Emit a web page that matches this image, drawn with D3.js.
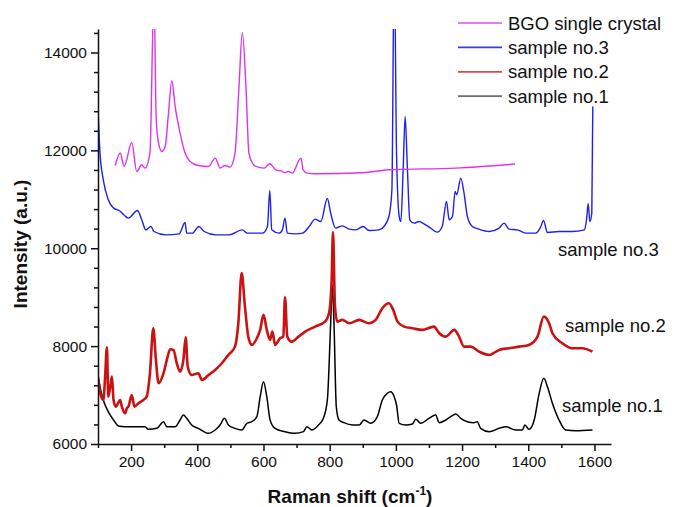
<!DOCTYPE html>
<html>
<head>
<meta charset="utf-8">
<script src="https://cdn.jsdelivr.net/npm/d3@7/dist/d3.min.js"></script>
<style>
  html, body { margin: 0; padding: 0; background: #fff; }
  svg { display: block; font-family: "Liberation Sans", Arial, sans-serif; }
</style>
</head>
<body>
<svg id="chart" width="675" height="507"></svg>
<script>
// ---------- data (Raman shift cm-1, intensity a.u.) ----------
const sample1 = [
  [101,7376],[106,7172],[116,6900],[131,6661],[147,6491],[162,6368],[182,6354],[212,6354],[242,6354],
  [252,6300],[278,6320],[298,6456],[308,6354],[333,6354],[348,6491],[358,6593],[368,6525],[383,6388],
  [403,6320],[434,6218],[454,6286],[469,6388],[482,6525],[494,6388],[514,6320],[534,6286],[550,6423],
  [565,6456],[580,6558],[590,6967],[600,7274],[610,6967],[620,6491],[635,6320],[665,6252],[695,6218],
  [721,6252],[731,6354],[746,6286],[766,6388],[781,6525],[793,6900],[803,8468],[808,9250],[813,8468],
  [820,6763],[828,6491],[843,6436],[869,6388],[889,6388],[904,6491],[924,6423],[944,6558],[959,6900],
  [974,7036],[984,7070],[995,6967],[1002,6797],[1010,6423],[1030,6388],[1050,6409],[1060,6505],
  [1075,6423],[1100,6525],[1120,6593],[1131,6436],[1151,6491],[1166,6558],[1181,6613],[1196,6525],
  [1216,6456],[1236,6436],[1246,6456],[1256,6320],[1282,6252],[1312,6320],[1332,6354],[1362,6286],
  [1382,6286],[1390,6388],[1402,6300],[1418,6491],[1433,7036],[1447,7343],[1458,7172],[1473,6832],
  [1493,6491],[1513,6286],[1543,6272],[1594,6286]
];
const sample2 = [
  [101,7309],[106,7070],[116,6900],[121,7309],[127,7978],[131,6967],[137,7172],[142,7376],[147,6900],
  [154,6763],[167,6900],[172,6763],[182,6627],[187,6729],[192,6763],[202,7002],[210,6763],[222,6832],
  [237,6900],[247,6967],[257,7446],[267,8366],[275,7718],[283,7241],[298,7446],[308,7718],[318,7937],
  [328,7922],[338,7650],[348,7479],[358,7718],[365,8182],[371,7581],[383,7411],[403,7446],[414,7309],
  [434,7411],[454,7513],[474,7650],[494,7820],[514,7990],[524,8468],[534,9491],[544,8808],[554,8194],
  [565,8025],[580,8161],[590,8331],[600,8638],[610,8331],[620,8127],[627,8297],[635,8025],[650,8161],
  [660,8194],[665,9000],[672,8194],[685,8092],[706,8194],[726,8297],[756,8399],[786,8501],[798,8673],
  [806,9354],[810,10330],[816,8808],[823,8501],[838,8536],[859,8468],[889,8536],[919,8468],[939,8536],
  [959,8775],[979,8877],[992,8740],[1005,8501],[1025,8399],[1050,8366],[1080,8331],[1115,8399],
  [1131,8263],[1151,8194],[1176,8331],[1191,8194],[1206,7990],[1226,7990],[1251,7888],[1282,7820],
  [1312,7922],[1342,7957],[1372,7990],[1402,8025],[1428,8194],[1447,8603],[1463,8468],[1473,8264],
  [1503,8059],[1533,7957],[1563,7957],[1594,7888]
];
const sample3 = [
  [96,13240],[99,12967],[106,11945],[116,11399],[131,10990],[147,10820],[164,10771],[192,10616],
  [219,10771],[234,10546],[244,10376],[260,10444],[269,10342],[305,10274],[345,10294],[363,10526],
  [368,10308],[385,10308],[405,10444],[421,10342],[456,10274],[496,10274],[536,10376],[551,10308],
  [597,10308],[612,10444],[619,11180],[625,10376],[647,10308],[657,10376],[665,10616],[672,10308],
  [698,10294],[718,10308],[738,10444],[756,10595],[773,10546],[793,11016],[803,10718],[818,10411],
  [838,10458],[859,10390],[879,10376],[901,10444],[919,10362],[949,10376],[964,10444],[979,10648],
  [988,11194],[995,16000],[1002,11945],[1010,10648],[1015,10546],[1022,11603],[1028,12693],[1035,11603],
  [1042,10581],[1055,10513],[1070,10546],[1085,10499],[1105,10411],[1125,10329],[1140,10444],
  [1153,10955],[1161,10581],[1171,10648],[1179,11160],[1184,11092],[1196,11433],[1206,11127],
  [1216,10648],[1231,10444],[1251,10390],[1282,10342],[1312,10411],[1327,10513],[1342,10390],
  [1367,10376],[1392,10308],[1423,10308],[1438,10444],[1446,10567],[1458,10322],[1493,10342],
  [1533,10342],[1569,10376],[1576,10581],[1581,10908],[1586,10546],[1592,10718],[1595,12898]
];
const bgo = [
  [152,11691],[167,11945],[179,11670],[202,12162],[217,11569],[232,11706],[242,11638],[257,11945],
  [269,15200],[276,12626],[283,12149],[293,11978],[303,12080],[313,12763],[323,13423],[333,12898],
  [348,12354],[363,11945],[378,11773],[403,11691],[434,11671],[454,11842],[469,11638],[484,11691],
  [499,11658],[514,11945],[526,13307],[536,14411],[547,13307],[556,11945],[572,11691],[577,11671],
  [602,11638],[619,11726],[637,11603],[657,11569],[663,11545],[675,11569],[687,11536],[713,11842],
  [720,11603],[733,11536],[758,11522],[899,11542],[979,11603],[1181,11638],[1360,11720]
];
const seriesNames = ["BGO single crystal","sample no.3","sample no.2","sample no.1"];
const xMajorTicks = [200,400,600,800,1000,1200,1400,1600];
const xMinorTicks = [100,300,500,700,900,1100,1300,1500];
const yMajorTicks = [6000,8000,10000,12000,14000];
const yMinorTicks = [6400,6800,7200,7600,8400,8800,9200,9600,10400,10800,11200,11600,12400,12800,13200,13600,14400];

// ---------- layout ----------
const svg = d3.select("#chart");
const x = d3.scaleLinear().domain([100,1650]).range([98,611]);
const y = d3.scaleLinear().domain([6000,14480]).range([444,29]);

const colors = {bgo:"#dd33ee", s3:"#1f1fee", s2:"#cc1111", s1:"#000000"};
const legendColors = ["#e07cf0","#3b3bef","#d84a4a","#6e6e6e"];

svg.append("defs").append("clipPath").attr("id","plotclip")
  .append("rect").attr("x",98).attr("y",29).attr("width",520).attr("height",420);

const line = d3.line().x(d=>x(d[0])).y(d=>y(d[1])).curve(d3.curveMonotoneX);
const g = svg.append("g").attr("clip-path","url(#plotclip)");
g.append("path").datum(sample1).attr("d",line).attr("fill","none").attr("stroke",colors.s1).attr("stroke-width",1.5);
g.append("path").datum(sample2).attr("d",line).attr("fill","none").attr("stroke",colors.s2).attr("stroke-width",2.6);
g.append("path").datum(sample3).attr("d",line).attr("fill","none").attr("stroke",colors.s3).attr("stroke-width",1.4);
g.append("path").datum(bgo).attr("d",line).attr("fill","none").attr("stroke",colors.bgo).attr("stroke-width",1.4);

// ---------- axes ----------
const fontTick = "15.5px";
svg.append("g").attr("transform","translate(0,444)")
  .call(d3.axisBottom(x).tickValues(xMajorTicks).tickSize(7).tickSizeOuter(0).tickPadding(5).tickFormat(d3.format("d")));
svg.append("g").attr("transform","translate(0,444)")
  .call(d3.axisBottom(x).tickValues(xMinorTicks).tickSize(4).tickFormat(""))
  .call(s=>s.select(".domain").remove());
svg.append("g").attr("transform","translate(98,0)")
  .call(d3.axisLeft(y).tickValues(yMajorTicks).tickSize(7).tickSizeOuter(0).tickPadding(4).tickFormat(d3.format("d")));
svg.append("g").attr("transform","translate(98,0)")
  .call(d3.axisLeft(y).tickValues(yMinorTicks).tickSize(4).tickFormat(""))
  .call(s=>s.select(".domain").remove());

svg.selectAll(".tick text").attr("font-size",fontTick).attr("fill","#111")
  .attr("font-family","'Liberation Sans', Arial, sans-serif");
svg.selectAll(".domain, .tick line").attr("stroke","#111").attr("stroke-width",1.5);

// axis titles
svg.append("text").attr("transform","translate(27,244) rotate(-90)")
  .attr("text-anchor","middle").attr("font-weight","bold").attr("font-size","19px").attr("fill","#111")
  .text("Intensity (a.u.)");
const xt = svg.append("text").attr("x",350).attr("y",503)
  .attr("text-anchor","middle").attr("font-weight","bold").attr("font-size","19px").attr("fill","#111");
xt.append("tspan").text("Raman shift (cm");
xt.append("tspan").attr("font-size","12px").attr("dy","-8").text("-1");
xt.append("tspan").attr("dy","8").text(")");

// ---------- legend ----------
const leg = svg.append("g");
seriesNames.forEach((n,i)=>{
  const yy = 23 + i*24.4;
  leg.append("line").attr("x1",458).attr("x2",502).attr("y1",yy).attr("y2",yy)
    .attr("stroke",legendColors[i]).attr("stroke-width",1.8);
  leg.append("text").attr("x",508).attr("y",yy+6.5).attr("font-size","18.5px").attr("fill","#111").text(n);
});

// ---------- annotations ----------
const ann = [["sample no.3",558,256],["sample no.2",565,332],["sample no.1",562,412]];
ann.forEach(a=>{
  svg.append("text").attr("x",a[1]).attr("y",a[2]).attr("font-size","18.5px").attr("fill","#111").text(a[0]);
});
</script>
</body>
</html>
